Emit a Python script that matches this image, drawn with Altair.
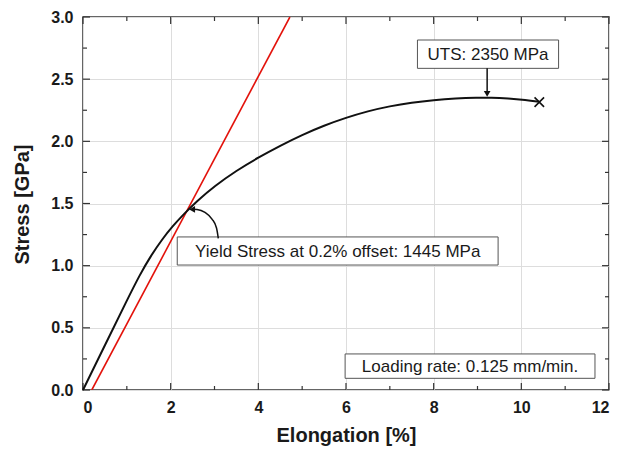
import altair as alt
import pandas as pd

# Measured stress-strain curve (black)
elong = [0, 0.5, 1.0, 1.3, 1.55, 1.8, 2.05, 2.3, 2.6, 3.0, 3.5, 4.0, 4.5,
         5.0, 5.5, 6.0, 6.5, 7.0, 7.5, 8.0, 8.5, 9.0, 9.3, 9.7, 10.1, 10.41]
stress = [0, 0.36, 0.72, 0.93, 1.08, 1.21, 1.32, 1.415, 1.52, 1.64, 1.765, 1.87, 1.965,
          2.052, 2.127, 2.19, 2.243, 2.283, 2.312, 2.332, 2.345, 2.351, 2.352, 2.345, 2.332, 2.318]

# 0.2% offset line (red)
offset_x = [0.2, 4.72]
offset_y = [0.0, 3.0]

# Fracture marker
fracture_x = [10.41]
fracture_y = [2.315]

# Annotation boxes
box_text = ["UTS: 2350 MPa", "Yield Stress at 0.2% offset: 1445 MPa", "Loading rate: 0.125 mm/min."]
box_x1 = [7.63, 2.15, 5.98]
box_x2 = [10.85, 9.47, 11.68]
box_y1 = [2.587, 1.005, 0.094]
box_y2 = [2.815, 1.231, 0.290]

# Arrows
uts_arrow_x = [9.22, 9.22]
uts_arrow_y = [2.587, 2.39]
uts_head_x = [9.22]
uts_head_y = [2.382]
yield_arrow_x = [3.087, 3.046, 2.943, 2.783, 2.601, 2.50]
yield_arrow_y = [1.220, 1.303, 1.375, 1.428, 1.452, 1.454]
yield_head_x = [2.49]
yield_head_y = [1.452]

# Ticks
x_major = [0, 2, 4, 6, 8, 10, 12]
x_minor = [1, 3, 5, 7, 9, 11]
y_major = [0.0, 0.5, 1.0, 1.5, 2.0, 2.5, 3.0]
y_minor = [0.25, 0.75, 1.25, 1.75, 2.25, 2.75]

W, H = 526, 373
FONT = "Liberation Sans"

xs = alt.Scale(domain=[0, 12], nice=False, zero=False)
ys = alt.Scale(domain=[0, 3], nice=False, zero=False)

xaxis = alt.Axis(values=x_major, format="d", title="Elongation [%]", labelPadding=9,
                 titleX=W / 2, titleY=51, titleBaseline="alphabetic", titleAlign="center")
yaxis = alt.Axis(values=y_major, format=".1f", title="Stress [GPa]", labelPadding=10,
                 titleX=-61, titleY=187, titleAngle=270, titleAlign="center", titleBaseline="middle")


def X(f):
    return alt.X(f, scale=xs, axis=xaxis)


def Y(f):
    return alt.Y(f, scale=ys, axis=yaxis)


curve_df = pd.DataFrame({"x": elong, "y": stress, "i": range(len(elong))})
offset_df = pd.DataFrame({"x": offset_x, "y": offset_y})
frac_df = pd.DataFrame({"x": fracture_x, "y": fracture_y})
box_df = pd.DataFrame({"t": box_text, "x": box_x1, "x2": box_x2, "y": box_y1, "y2": box_y2})
box_df["xc"] = (box_df["x"] + box_df["x2"]) / 2
box_df["yc"] = (box_df["y"] + box_df["y2"]) / 2
uts_df = pd.DataFrame({"x": uts_arrow_x, "y": uts_arrow_y})
uts_head_df = pd.DataFrame({"x": uts_head_x, "y": uts_head_y})
ya_df = pd.DataFrame({"x": yield_arrow_x, "y": yield_arrow_y, "i": range(len(yield_arrow_x))})
yh_df = pd.DataFrame({"x": yield_head_x, "y": yield_head_y})

offset_line = alt.Chart(offset_df).mark_line(color="#e3120b", strokeWidth=1.6, clip=True).encode(
    x=X("x:Q"), y=Y("y:Q"),
)

curve = alt.Chart(curve_df).mark_line(color="#111111", strokeWidth=2, interpolate="basis").encode(
    x=X("x:Q"), y=Y("y:Q"), order="i:O",
)

frac = alt.Chart(frac_df).mark_point(
    shape="M-1,-1L1,1M-1,1L1,-1", size=90, filled=False, color="#111111", strokeWidth=1.6, opacity=1
).encode(x=X("x:Q"), y=Y("y:Q"))


def ticks(values, major, axis):
    df = pd.DataFrame({"x": values, "y": values})
    ln = 7 if major else 4
    base = alt.Chart(df).mark_rule(color="#333333", strokeWidth=1.2)
    if axis == "bottom":
        return base.encode(x=X("x:Q"), y=alt.value(H), y2=alt.value(H - ln))
    if axis == "top":
        return base.encode(x=X("x:Q"), y=alt.value(0), y2=alt.value(ln))
    if axis == "left":
        return base.encode(y=Y("y:Q"), x=alt.value(0), x2=alt.value(ln))
    return base.encode(y=Y("y:Q"), x=alt.value(W), x2=alt.value(W - ln))


tick_layers = []
for ax in ["bottom", "top"]:
    tick_layers.append(ticks(x_major, True, ax))
    tick_layers.append(ticks(x_minor, False, ax))
for ax in ["left", "right"]:
    tick_layers.append(ticks(y_major, True, ax))
    tick_layers.append(ticks(y_minor, False, ax))

boxes = alt.Chart(box_df).mark_rect(fill="white", stroke="#555555", strokeWidth=1).encode(
    x=X("x:Q"), x2="x2:Q", y=Y("y:Q"), y2="y2:Q",
)
texts = alt.Chart(box_df).mark_text(font=FONT, fontSize=17, color="#1a1a1a", align="center",
                                    baseline="middle", dy=1).encode(
    x=X("xc:Q"), y=Y("yc:Q"), text="t:N"
)

uts_line = alt.Chart(uts_df).mark_line(color="#111111", strokeWidth=1.5).encode(x=X("x:Q"), y=Y("y:Q"))
uts_head = alt.Chart(uts_head_df).mark_point(shape="triangle-down", size=45, filled=True,
                                             color="#111111", opacity=1).encode(x=X("x:Q"), y=Y("y:Q"))
ya_line = alt.Chart(ya_df).mark_line(color="#111111", strokeWidth=1.5, interpolate="monotone").encode(
    x=X("x:Q"), y=Y("y:Q"), order="i:O"
)
ya_head = alt.Chart(yh_df).mark_point(shape="triangle-left", size=45, filled=True,
                                      color="#111111", opacity=1).encode(x=X("x:Q"), y=Y("y:Q"))

chart = alt.layer(
    offset_line, *tick_layers, curve, frac, boxes, texts, uts_line, uts_head, ya_line, ya_head
).properties(
    width=W, height=H, autosize="none",
    padding={"left": 75, "top": 9, "right": 4, "bottom": 56},
).configure_view(
    stroke="#333333", strokeWidth=1.5
).configure_axis(
    labelFont=FONT, labelFontWeight="bold", labelFontSize=16, labelColor="#1a1a1a",
    titleFont=FONT, titleFontWeight="bold", titleFontSize=20, titleColor="#1a1a1a",
    gridColor="#dddddd", gridWidth=1, tickSize=0, domain=False,
)

chart.save("out.html", embed_options={"renderer": "svg", "actions": False})
